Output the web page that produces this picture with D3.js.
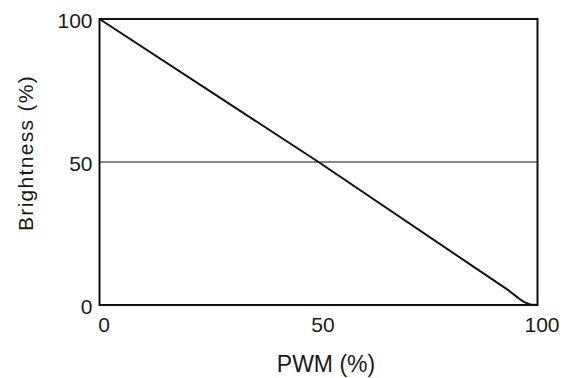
<!DOCTYPE html>
<html>
<head>
<meta charset="utf-8">
<script src="https://cdn.jsdelivr.net/npm/d3@7.9.0/dist/d3.min.js"></script>
<style>
  body { margin: 0; background: #fff; }
  text { font-family: "Liberation Sans", Arial, sans-serif; fill: #1a1a1a; }
</style>
</head>
<body>
<svg id="chart" width="566" height="378"></svg>
<script>
// Data
const pwm = [0, 50, 93.5, 95, 96, 97, 98, 99, 100];
const brightness = [100, 50, 5, 3.2, 2, 1, 0.35, 0.05, 0];
const xTicks = [0, 50, 100];
const yTicks = [0, 50, 100];
const refLine = 50;

const svg = d3.select('#chart');
const margin = { left: 99.5, right: 28.5, top: 19, bottom: 73 };
const width = 566 - margin.left - margin.right;
const height = 378 - margin.top - margin.bottom;

const x = d3.scaleLinear().domain([0, 100]).range([margin.left, margin.left + width]);
const y = d3.scaleLinear().domain([0, 100]).range([margin.top + height, margin.top]);

// reference line at 50%
svg.append('line')
  .attr('x1', x(0)).attr('x2', x(100))
  .attr('y1', y(refLine)).attr('y2', y(refLine))
  .attr('stroke', '#111').attr('stroke-width', 1);

// curve
const points = pwm.map((p, i) => [p, brightness[i]]);
const line = d3.line()
  .x((d) => x(d[0]))
  .y((d) => y(d[1]));

svg.append('path')
  .attr('d', line(points))
  .attr('fill', 'none')
  .attr('stroke', '#111')
  .attr('stroke-width', 2)
  .attr('stroke-linejoin', 'round');

// frame
svg.append('rect')
  .attr('x', x(0)).attr('y', y(100))
  .attr('width', width).attr('height', height)
  .attr('fill', 'none')
  .attr('stroke', '#111')
  .attr('stroke-width', 2);

// axes (labels only, no tick marks)
const xAxis = d3.axisBottom(x).tickValues(xTicks).tickSize(0).tickPadding(12);
const gx = svg.append('g')
  .attr('transform', `translate(4,${margin.top + height})`)
  .call(xAxis);
gx.select('.domain').remove();
gx.selectAll('text').attr('font-size', 21).style('font-family', null);

const yAxis = d3.axisLeft(y).tickValues(yTicks).tickSize(0).tickPadding(7);
const gy = svg.append('g')
  .attr('transform', `translate(${margin.left},2)`)
  .call(yAxis);
gy.select('.domain').remove();
gy.selectAll('text').attr('font-size', 21).style('font-family', null);

// axis titles
svg.append('text')
  .attr('x', 326).attr('y', 372)
  .attr('text-anchor', 'middle')
  .attr('font-size', 23)
  .text('PWM (%)');

svg.append('text')
  .attr('transform', 'translate(33,153) rotate(-90)')
  .attr('text-anchor', 'middle')
  .attr('font-size', 21)
  .attr('letter-spacing', 1.3)
  .text('Brightness (%)');
</script>
</body>
</html>
